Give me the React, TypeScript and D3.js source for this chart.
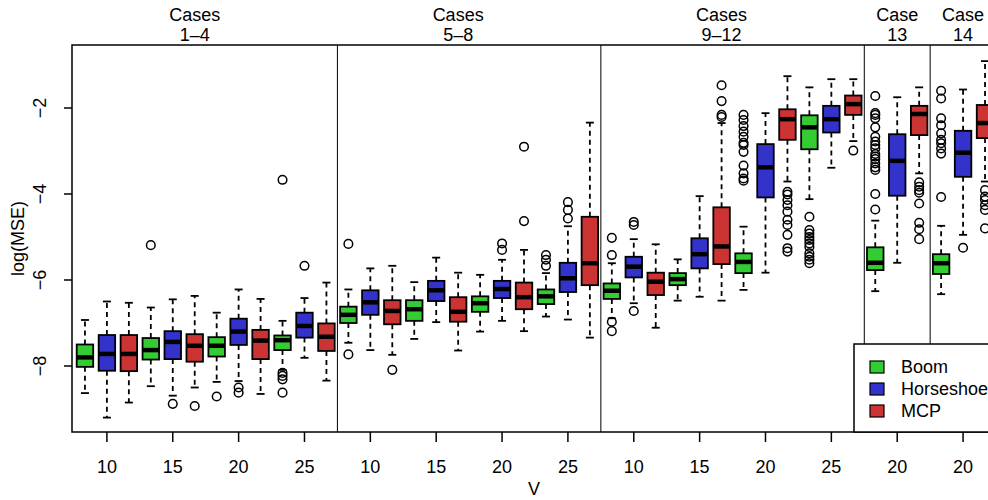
import React from 'react';
import * as d3 from 'd3';

// box order: Boom, Horseshoe, MCP repeated per V / case
const methods = ['Boom', 'Horseshoe', 'MCP'];
const methodColors = ['#33cc33', '#3333cc', '#cc3333'];

const panelTitles = [['Cases', '1\u20134'], ['Cases', '5\u20138'], ['Cases', '9\u201312'], ['Case', '13'], ['Case', '14']];
const panelTitleAt = [5, 17, 29, 37, 40];
const dividersAfter = [11, 23, 35, 38];

const xTickAt = [1, 4, 7, 10, 13, 16, 19, 22, 25, 28, 31, 34, 37, 40];
const xTickLabels = ['10', '15', '20', '25', '10', '15', '20', '25', '10', '15', '20', '25', '20', '20'];
const yTicks = [-2, -4, -6, -8];

const lowerWhisker = [
  -8.63, -9.2, -8.85, -8.47, -8.69, -8.5, -8.37, -8.35, -8.65, -8.09, -7.81, -8.34,
  -7.46, -7.63, -7.74, -7.37, -6.98, -7.64, -7.2, -6.95, -7.19, -6.85, -6.92, -7.34,
  -6.89, -6.54, -7.11, -6.48, -6.39, -6.48, -6.23, -5.83, -3.71, -4.12, -3.39, -2.77,
  -6.26, -5.6, -3.52, -6.33, -4.95, -3.71,
];
const q1 = [
  -8.02, -8.11, -8.12, -7.85, -7.84, -7.9, -7.78, -7.51, -7.84, -7.63, -7.34, -7.65,
  -7.0, -6.81, -7.03, -6.95, -6.49, -6.97, -6.74, -6.42, -6.68, -6.56, -6.28, -6.12,
  -6.44, -5.94, -6.35, -6.12, -5.73, -5.63, -5.84, -4.08, -2.74, -2.96, -2.57, -2.16,
  -5.77, -4.04, -2.63, -5.86, -3.6, -2.7,
];
const medians = [
  -7.8, -7.72, -7.72, -7.63, -7.44, -7.53, -7.53, -7.2, -7.41, -7.4, -7.07, -7.32,
  -6.81, -6.52, -6.72, -6.68, -6.24, -6.74, -6.54, -6.21, -6.4, -6.38, -5.96, -5.61,
  -6.25, -5.69, -6.04, -5.98, -5.4, -5.22, -5.58, -3.38, -2.26, -2.45, -2.26, -1.91,
  -5.6, -3.23, -2.14, -5.61, -3.04, -2.35,
];
const q3 = [
  -7.5, -7.28, -7.28, -7.35, -7.19, -7.26, -7.33, -6.9, -7.16, -7.29, -6.76, -7.01,
  -6.62, -6.24, -6.47, -6.47, -6.02, -6.4, -6.38, -6.02, -6.06, -6.22, -5.6, -4.53,
  -6.08, -5.46, -5.83, -5.84, -5.03, -4.31, -5.38, -2.84, -2.03, -2.17, -1.95, -1.71,
  -5.24, -2.61, -1.95, -5.4, -2.53, -1.93,
];
const upperWhisker = [
  -6.93, -6.5, -6.53, -6.64, -6.45, -6.37, -6.76, -6.22, -6.44, -6.95, -6.42, -6.06,
  -6.22, -5.73, -5.67, -6.05, -5.48, -5.83, -5.88, -5.53, -5.3, -5.84, -4.75, -2.34,
  -5.61, -5.05, -5.17, -5.52, -4.05, -2.35, -4.76, -2.12, -1.26, -1.52, -1.33, -1.33,
  -4.62, -1.75, -1.52, -4.74, -1.57, -0.91,
];
const outliers = [
  [], [], [], [-5.19], [-8.88], [-8.93], [-8.71], [-8.5, -8.62], [], [-3.67, -8.16, -8.23, -8.31, -8.62], [-5.67], [],
  [-5.16, -7.73], [], [-8.09], [], [], [], [], [-5.15, -5.3], [-2.9, -4.63], [-5.42, -5.53, -5.67], [-4.19, -4.37, -4.57], [],
  [-5.02, -5.42, -6.97, -7.19], [-4.65, -4.72, -6.72], [], [], [], [-1.47, -1.84, -2.16, -2.21],
  [-2.16, -2.28, -2.42, -2.55, -2.67, -2.81, -2.86, -3.02, -3.34, -3.52, -3.64, -3.69], [],
  [-3.95, -4.01, -4.14, -4.26, -4.41, -4.6, -4.72, -4.95, -5.26, -5.34],
  [-4.53, -4.84, -4.92, -5.0, -5.07, -5.15, -5.23, -5.38, -5.46, -5.53, -5.61], [], [-2.99],
  [-1.72, -2.12, -2.16, -2.24, -2.45, -2.67, -2.78, -2.86, -2.94, -3.07, -3.13, -3.19, -3.29, -3.38, -3.44, -4.0, -4.36],
  [],
  [-3.73, -3.83, -3.91, -3.97, -4.22, -4.67, -4.82, -5.05],
  [-1.6, -1.78, -2.24, -2.4, -2.59, -2.74, -2.82, -2.94, -3.06, -4.07],
  [-5.25],
  [-3.91, -4.06, -4.14, -4.26, -4.37, -4.8],
];

const W = 988;
const H = 500;
const left = 72;
const right = 996;
const top = 45;
const bottom = 432;
const font = "'Liberation Sans', Arial, Helvetica, sans-serif";

const App = () => {
  const x = d3.scaleLinear().domain([-0.59, 41.5]).range([left, right]);
  const y = d3.scaleLinear().domain([-9.535, -0.535]).range([bottom, top]);
  const boxW = 16.5;
  const capW = 8;

  return (
    <svg
      width={W}
      height={H}
      style={{ position: 'absolute', left: 0, top: 0, background: '#fff' }}
      fontFamily={font}
    >
      {/* panel dividers */}
      {dividersAfter.map((d) => (
        <line key={d} x1={x(d + 0.5)} x2={x(d + 0.5)} y1={top} y2={bottom} stroke="#000" strokeWidth={1} />
      ))}

      {/* boxes */}
      {medians.map((m, i) => {
        const cx = x(i);
        const col = methodColors[i % 3];
        return (
          <g key={i}>
            <line x1={cx} x2={cx} y1={y(q3[i])} y2={y(upperWhisker[i])} stroke="#000" strokeWidth={1.8} strokeDasharray="5,4" />
            <line x1={cx} x2={cx} y1={y(q1[i])} y2={y(lowerWhisker[i])} stroke="#000" strokeWidth={1.8} strokeDasharray="5,4" />
            <line x1={cx - capW / 2} x2={cx + capW / 2} y1={y(upperWhisker[i])} y2={y(upperWhisker[i])} stroke="#000" strokeWidth={1.8} />
            <line x1={cx - capW / 2} x2={cx + capW / 2} y1={y(lowerWhisker[i])} y2={y(lowerWhisker[i])} stroke="#000" strokeWidth={1.8} />
            <rect x={cx - boxW / 2} y={y(q3[i])} width={boxW} height={y(q1[i]) - y(q3[i])} fill={col} stroke="#000" strokeWidth={1.8} />
            <line x1={cx - boxW / 2} x2={cx + boxW / 2} y1={y(m)} y2={y(m)} stroke="#000" strokeWidth={4.5} />
            {outliers[i].map((o, j) => (
              <circle key={j} cx={cx} cy={y(o)} r={4.3} fill="none" stroke="#000" strokeWidth={1.5} />
            ))}
          </g>
        );
      })}

      {/* frame */}
      <rect x={left} y={top} width={right - left} height={bottom - top} fill="none" stroke="#000" strokeWidth={1.5} />

      {/* y axis */}
      {yTicks.map((t) => (
        <g key={t}>
          <line x1={left - 8} x2={left} y1={y(t)} y2={y(t)} stroke="#000" strokeWidth={1.5} />
          <text
            transform={`translate(${left - 26},${y(t)}) rotate(-90)`}
            textAnchor="middle"
            fontSize={18}
          >
            {'\u2212' + Math.abs(t)}
          </text>
        </g>
      ))}
      <text transform={`translate(24,${(top + bottom) / 2}) rotate(-90)`} textAnchor="middle" fontSize={18}>
        log(MSE)
      </text>

      {/* x axis */}
      {xTickAt.map((t, k) => (
        <g key={k}>
          <line x1={x(t)} x2={x(t)} y1={bottom} y2={bottom + 10} stroke="#000" strokeWidth={1.5} />
          <text x={x(t)} y={473} textAnchor="middle" fontSize={18}>
            {xTickLabels[k]}
          </text>
        </g>
      ))}
      <text x={(left + right) / 2} y={495} textAnchor="middle" fontSize={18}>
        V
      </text>

      {/* panel titles */}
      {panelTitles.map((p, k) => (
        <g key={k}>
          <text x={x(panelTitleAt[k])} y={21} textAnchor="middle" fontSize={18}>{p[0]}</text>
          <text x={x(panelTitleAt[k])} y={41} textAnchor="middle" fontSize={18}>{p[1]}</text>
        </g>
      ))}

      {/* legend */}
      <g>
        <rect x={854} y={344} width={142} height={bottom - 344} fill="#fff" stroke="#000" strokeWidth={1.5} />
        {methods.map((m, k) => (
          <g key={m}>
            <rect x={870} y={361 + k * 22} width={14} height={12} fill={methodColors[k]} stroke="#000" strokeWidth={1.2} />
            <text x={901} y={373 + k * 22} fontSize={18}>{m}</text>
          </g>
        ))}
      </g>
    </svg>
  );
};

export default App;
